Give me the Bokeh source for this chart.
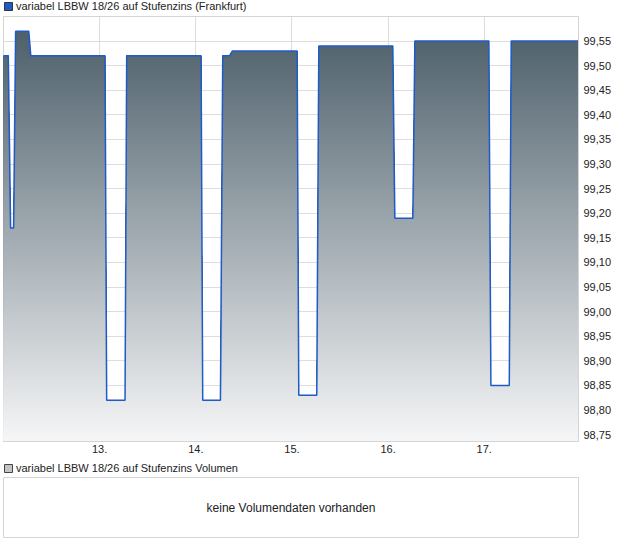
import numpy as np
from bokeh.plotting import figure
from bokeh.models import (FixedTicker, Range1d, Legend, LegendItem, Label, ColumnDataSource)
from bokeh.layouts import column
from bokeh.embed import file_html
from bokeh.resources import INLINE

# ---------------- data ----------------
series_name = "variabel LBBW 18/26 auf Stufenzins (Frankfurt)"
volume_name = "variabel LBBW 18/26 auf Stufenzins Volumen"
no_volume_text = "keine Volumendaten vorhanden"

time_days = [12.000, 12.050, 12.074, 12.105, 12.126, 12.263, 12.284,
             13.056, 13.073, 13.264, 13.281,
             14.055, 14.072, 14.256, 14.280, 14.350, 14.381,
             15.054, 15.071, 15.258, 15.279,
             16.049, 16.070, 16.257, 16.278,
             17.048, 17.069, 17.260, 17.280, 18.000]
price = [99.52, 99.52, 99.17, 99.17, 99.57, 99.57, 99.52,
         99.52, 98.82, 98.82, 99.52,
         99.52, 98.82, 98.82, 99.52, 99.52, 99.53,
         99.53, 98.83, 98.83, 99.54,
         99.54, 99.19, 99.19, 99.55,
         99.55, 98.85, 98.85, 99.55, 99.55]

x_ticks = [13, 14, 15, 16, 17]
x_tick_labels = ["13.", "14.", "15.", "16.", "17."]
y_ticks = [98.75, 98.80, 98.85, 98.90, 98.95, 99.00, 99.05, 99.10, 99.15,
           99.20, 99.25, 99.30, 99.35, 99.40, 99.45, 99.50, 99.55]
y_tick_labels = ["98,75", "98,80", "98,85", "98,90", "98,95", "99,00", "99,05",
                 "99,10", "99,15", "99,20", "99,25", "99,30", "99,35", "99,40",
                 "99,45", "99,50", "99,55"]

# ---------------- style ----------------
FONT = "Liberation Sans"
TEXT = "#222222"
BORDER = "#d4d4d4"
GRID = "#dddddd"
LINE = "#1f5bc8"
TOP_COL = np.array([0x48, 0x5b, 0x67], float)
BOT_COL = np.array([0xf7, 0xf7, 0xf8], float)
X0, X1 = 12.0, 17.98
Y0, Y1 = 98.736, 99.600
W = 614
ML, MR = 3, 36


def header(label, fill, line, height):
    h = figure(width=W, height=height, output_backend="svg", toolbar_location=None,
               x_range=Range1d(0, 1), y_range=Range1d(0, 1),
               x_axis_type=None, y_axis_type=None,
               min_border_left=2, min_border_right=0, min_border_top=0,
               min_border_bottom=0)
    h.outline_line_color = None
    h.grid.visible = False
    src = ColumnDataSource(dict(l=[0.0], r=[0.0], t=[0.0], b=[0.0]))
    r = h.quad(left="l", right="r", top="t", bottom="b", source=src,
               fill_color=fill, line_color=line, visible=False)
    lg = Legend(items=[LegendItem(label=label, renderers=[r])],
                location="left", orientation="horizontal",
                glyph_width=10, glyph_height=10, label_standoff=3,
                label_text_font=FONT, label_text_font_size="11px", label_text_color=TEXT,
                label_height=12, padding=0, margin=0, spacing=0,
                border_line_color=None, background_fill_alpha=0,
                inactive_fill_alpha=0)
    h.add_layout(lg, "center")
    return h


head1 = header(series_name, "#1f5bc8", "#333333", 12)

p = figure(width=W, height=448, output_backend="svg", toolbar_location=None,
           x_range=Range1d(X0, X1), y_range=Range1d(Y0, Y1),
           y_axis_location="right",
           min_border_left=ML, min_border_right=MR, min_border_top=4,
           min_border_bottom=19)
p.background_fill_color = "white"
p.border_fill_color = "white"
p.outline_line_color = BORDER

# gradient fill under the line, built as overlapping bands
xs = np.array(time_days)
vs = np.array(price)
n_bands = 110
tops = np.linspace(Y1, Y0, n_bands + 1)[:-1]
for t in tops:
    frac = (Y1 - t) / (Y1 - Y0)
    c = TOP_COL + (BOT_COL - TOP_COL) * frac
    col = "#%02x%02x%02x" % tuple(int(round(v)) for v in c)
    p.varea(x=xs, y1=np.full_like(vs, Y0), y2=np.minimum(vs, t),
            fill_color=col, fill_alpha=1.0)

p.line(xs, vs, line_color=LINE, line_width=1.5)

# axes
for ax in (p.xaxis[0], p.yaxis[0]):
    ax.major_tick_line_color = None
    ax.minor_tick_line_color = None
    ax.major_tick_out = 0
    ax.major_tick_in = 0
    ax.minor_tick_out = 0
    ax.minor_tick_in = 0
    ax.axis_line_color = BORDER
    ax.major_label_text_font = FONT
    ax.major_label_text_font_size = "11px"
    ax.major_label_text_color = TEXT
p.xaxis.ticker = FixedTicker(ticks=x_ticks)
p.xaxis.major_label_overrides = {float(k): v for k, v in zip(x_ticks, x_tick_labels)}
p.xaxis.major_label_standoff = 3
p.yaxis.ticker = FixedTicker(ticks=y_ticks)
p.yaxis.major_label_overrides = {float(k): v for k, v in zip(y_ticks, y_tick_labels)}
p.yaxis.major_label_standoff = 5

p.xgrid.ticker = FixedTicker(ticks=x_ticks)
p.ygrid.ticker = FixedTicker(ticks=y_ticks)
p.grid.grid_line_color = GRID

head2 = header(volume_name, "#c4c4c4", "#444444", 16)

# ---------------- volume panel ----------------
p2 = figure(width=W, height=62, output_backend="svg", toolbar_location=None,
            x_range=Range1d(0, 1), y_range=Range1d(0, 1),
            x_axis_type=None, y_axis_type=None,
            min_border_left=ML, min_border_right=MR, min_border_top=1,
            min_border_bottom=1)
p2.outline_line_color = BORDER
p2.grid.visible = False
p2.add_layout(Label(x=0.5, y=0.5, text=no_volume_text, text_align="center",
                    text_baseline="middle", text_font=FONT, text_font_size="12px",
                    text_color=TEXT))

layout = column(head1, p, head2, p2)
open("out.html", "w").write(file_html(layout, INLINE))
